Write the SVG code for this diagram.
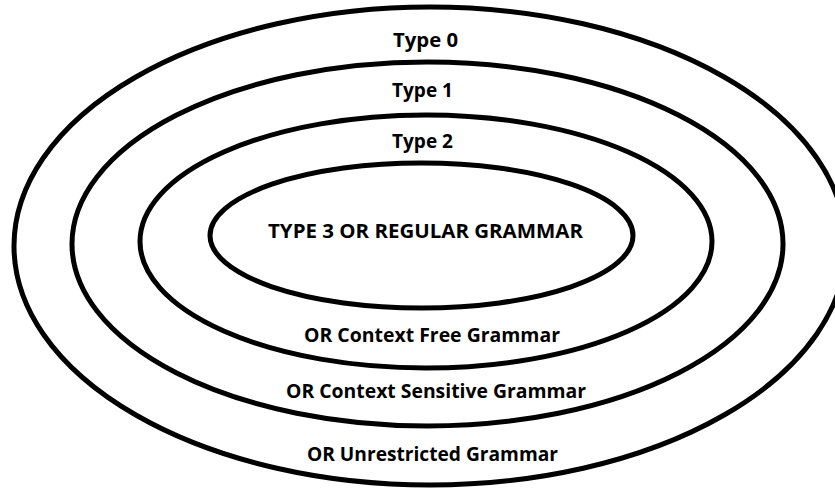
<svg xmlns="http://www.w3.org/2000/svg" width="835" height="489" viewBox="0 0 835 489">
<style>
.ring{fill:none;stroke:#000;stroke-width:5}
.lbl{font-family:"Open Sans","Liberation Sans",sans-serif;font-weight:bold;font-size:20px;fill:#000}
</style>
<rect width="835" height="489" fill="#fff"/>
<g id="type0">
<ellipse class="ring" cx="430" cy="246" rx="416" ry="239"/>
<text class="lbl" x="393" y="47" textLength="65" lengthAdjust="spacingAndGlyphs">Type 0</text>
<text class="lbl" x="307" y="461" textLength="251" lengthAdjust="spacingAndGlyphs">OR Unrestricted Grammar</text>
</g>
<g id="type1">
<ellipse class="ring" cx="427.5" cy="244" rx="355.5" ry="182"/>
<text class="lbl" x="392" y="97" textLength="61" lengthAdjust="spacingAndGlyphs">Type 1</text>
<text class="lbl" x="286" y="398" textLength="300" lengthAdjust="spacingAndGlyphs">OR Context Sensitive Grammar</text>
</g>
<g id="type2">
<ellipse class="ring" cx="426" cy="241.5" rx="286" ry="126.5"/>
<text class="lbl" x="392" y="148" textLength="61" lengthAdjust="spacingAndGlyphs">Type 2</text>
<text class="lbl" x="304" y="342" textLength="256" lengthAdjust="spacingAndGlyphs">OR Context Free Grammar</text>
</g>
<g id="type3">
<ellipse class="ring" cx="421.5" cy="235.5" rx="211.5" ry="72.5"/>
<text class="lbl" x="268" y="238" textLength="315" lengthAdjust="spacingAndGlyphs">TYPE 3 OR REGULAR GRAMMAR</text>
</g>
<g id="connectors"/>
</svg>
